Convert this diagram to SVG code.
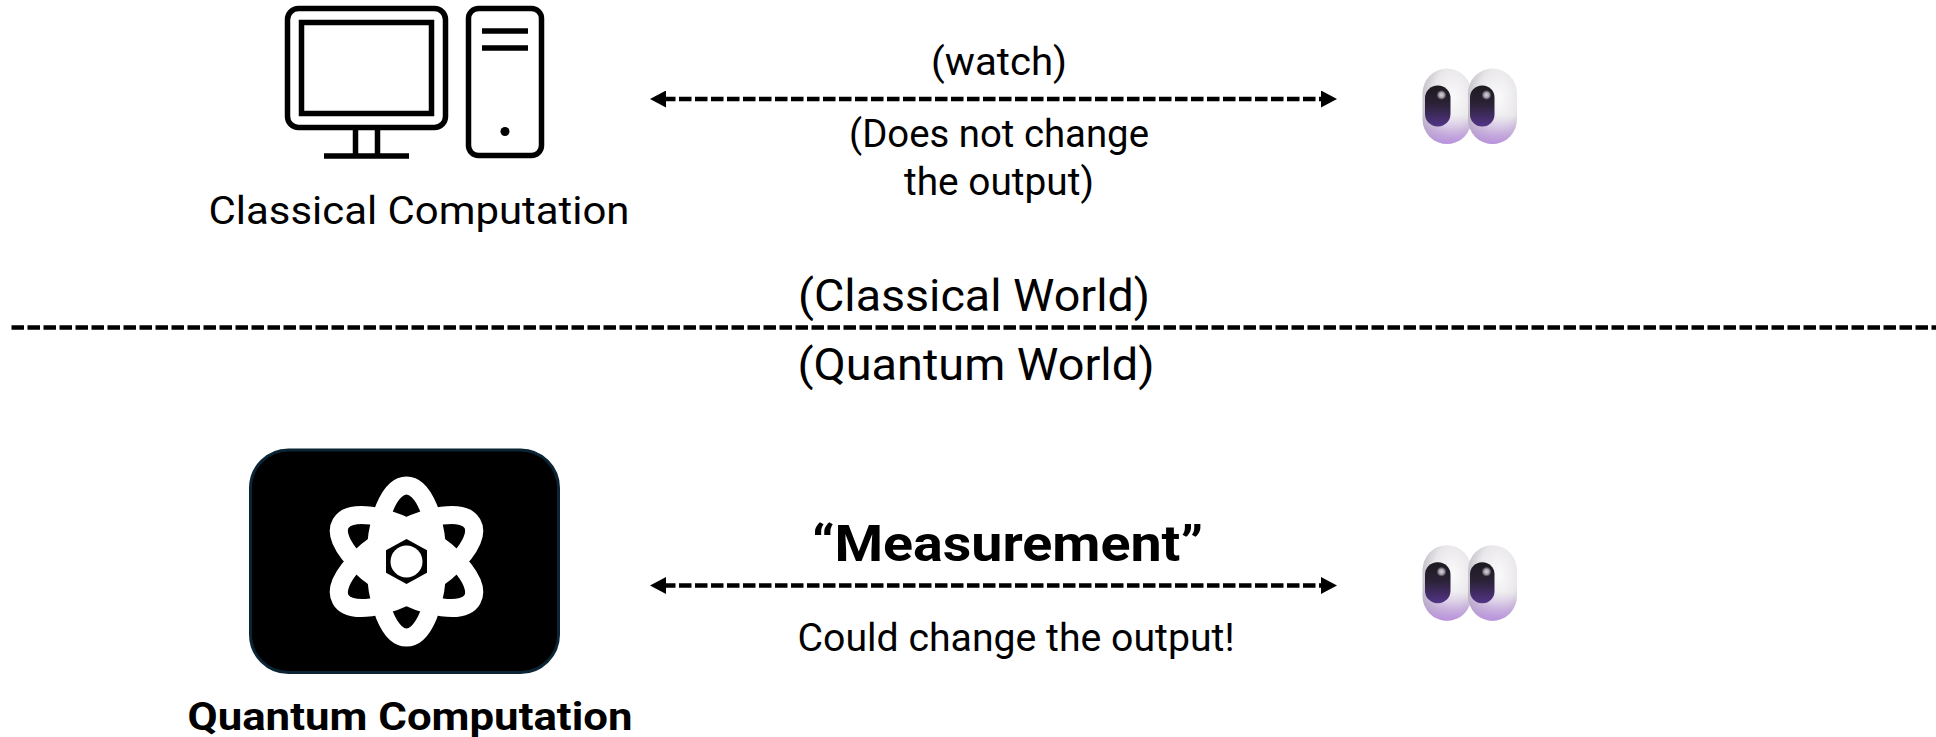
<svg xmlns="http://www.w3.org/2000/svg" width="1936" height="737" viewBox="0 0 1936 737">
<style>
text{font-family:"Roboto","Liberation Sans",sans-serif;fill:#000;text-anchor:middle}
.b{font-weight:700}
.icon{fill:none;stroke:#000;stroke-width:5.500}
.dash{fill:none;stroke:#000;stroke-width:4.500;stroke-dasharray:12.500 3.500}
</style>
<defs>
<marker id="ah" viewBox="0 0 16 17" refX="3" refY="8.500" markerWidth="16" markerHeight="17" markerUnits="userSpaceOnUse" orient="auto-start-reverse"><path d="M0 0L16 8.500L0 17Z" fill="#000"/></marker>
<radialGradient id="w" cx=".62" cy=".38" r=".72"><stop offset="0" stop-color="#fbfafb"/><stop offset=".55" stop-color="#e9e7ea"/><stop offset="1" stop-color="#b8b3bd"/></radialGradient>
<linearGradient id="v" x1="0" y1="0" x2="0" y2="1"><stop offset=".62" stop-color="#c09ee0" stop-opacity="0"/><stop offset="1" stop-color="#b98fdf" stop-opacity=".95"/></linearGradient>
<linearGradient id="p" x1="0" y1="0" x2="0" y2="1"><stop offset="0" stop-color="#1c1a20"/><stop offset=".45" stop-color="#2b2236"/><stop offset="1" stop-color="#533488"/></linearGradient>
<radialGradient id="h"><stop offset="0" stop-color="#d8d4da"/><stop offset=".5" stop-color="#a9a4ae"/><stop offset="1" stop-color="#a9a4ae" stop-opacity="0"/></radialGradient>
<g id="eyes">
<rect x="1422.500" y="68.500" width="49" height="75.500" rx="24.500" ry="25" fill="url(#w)"/>
<rect x="1422.500" y="68.500" width="49" height="75.500" rx="24.500" ry="25" fill="url(#v)"/>
<rect x="1468" y="68.500" width="49" height="75.500" rx="24.500" ry="25" fill="url(#w)"/>
<rect x="1468" y="68.500" width="49" height="75.500" rx="24.500" ry="25" fill="url(#v)"/>
<rect x="1425" y="85.500" width="25.500" height="41" rx="12.500" fill="url(#p)"/>
<rect x="1470" y="85.500" width="24.500" height="41" rx="12" fill="url(#p)"/>
<circle cx="1441.500" cy="95" r="5" fill="url(#h)"/>
<circle cx="1486.500" cy="95" r="5" fill="url(#h)"/>
</g>
</defs>
<rect width="1936" height="737" fill="#fff"/>
<g id="connectors">
<line id="divider" class="dash" x1="11.500" y1="327.500" x2="1936" y2="327.500"/>
<line id="watch-arrow" class="dash" x1="663" y1="99" x2="1324" y2="99" marker-start="url(#ah)" marker-end="url(#ah)"/>
<line id="measure-arrow" class="dash" x1="663" y1="585.500" x2="1324" y2="585.500" marker-start="url(#ah)" marker-end="url(#ah)"/>
</g>
<g id="classical-computer">
<rect class="icon" x="287.500" y="8.500" width="158" height="119" rx="11"/>
<rect class="icon" x="301.500" y="22.500" width="130" height="91"/>
<path class="icon" d="M355.500 130V155M377.500 130V155M324 156H409"/>
<rect class="icon" x="468.500" y="8.500" width="73" height="147" rx="10"/>
<path class="icon" d="M482 31H528M482 48H528"/>
<circle cx="505" cy="131.500" r="4.500" fill="#000"/>
<text x="419" y="223.500" font-size="38" textLength="421" lengthAdjust="spacingAndGlyphs">Classical Computation</text>
</g>
<g id="quantum-computer">
<rect x="250.500" y="450" width="308" height="222.500" rx="38" fill="#000" stroke="#0b2535" stroke-width="3"/>
<g fill="none" stroke="#fff" stroke-width="18">
<ellipse cx="406.500" cy="561.500" rx="31" ry="76"/>
<ellipse cx="406.500" cy="561.500" rx="31" ry="76" transform="rotate(60 406.500 561.500)"/>
<ellipse cx="406.500" cy="561.500" rx="31" ry="76" transform="rotate(-60 406.500 561.500)"/>
</g>
<circle cx="406.500" cy="561.500" r="33" fill="#fff"/>
<path d="M406.500 539L427 550.300V572.700L406.500 584L386 572.700V550.300Z" fill="#000"/>
<circle cx="406.500" cy="561.500" r="16" fill="#fff"/>
<text class="b" x="410" y="730" font-size="38" textLength="445" lengthAdjust="spacingAndGlyphs">Quantum Computation</text>
</g>
<g id="observer-top"><use href="#eyes"/></g>
<g id="observer-bottom"><use href="#eyes" y="476.700"/></g>
<g id="labels">
<text x="999" y="75" font-size="38" textLength="136" lengthAdjust="spacingAndGlyphs">(watch)</text>
<text x="999" y="146.500" font-size="38" textLength="300" lengthAdjust="spacingAndGlyphs">(Does not change</text>
<text x="999" y="194.500" font-size="38" textLength="190" lengthAdjust="spacingAndGlyphs">the output)</text>
<text x="974" y="311" font-size="44" textLength="352" lengthAdjust="spacingAndGlyphs">(Classical World)</text>
<text x="976" y="380" font-size="44" textLength="357" lengthAdjust="spacingAndGlyphs">(Quantum World)</text>
<text class="b" x="1007.500" y="561" font-size="50" textLength="391" lengthAdjust="spacingAndGlyphs">“Measurement”</text>
<text x="1016" y="651" font-size="38" textLength="437" lengthAdjust="spacingAndGlyphs">Could change the output!</text>
</g>
</svg>
